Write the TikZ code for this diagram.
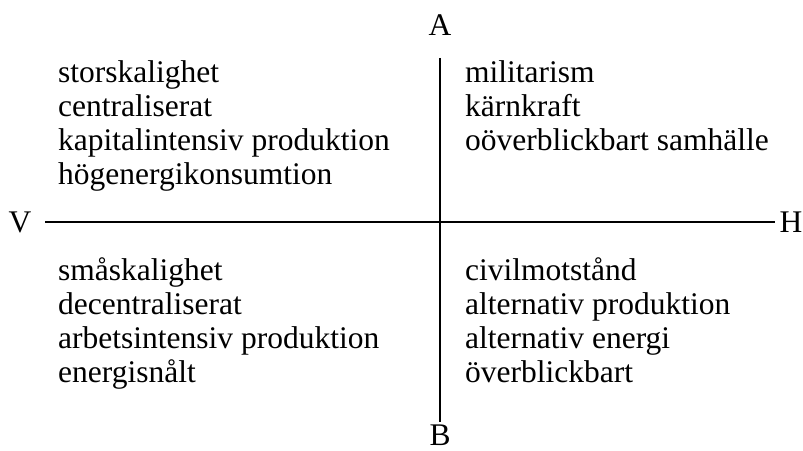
\documentclass[tikz,border=0pt]{standalone}
\usepackage{fontspec}
\setmainfont{Liberation Serif}
\usetikzlibrary{positioning}

\begin{document}
\begin{tikzpicture}[x=1pt,y=1pt,
    ord/.style={inner sep=0pt,anchor=base west,font=\fontsize{31.5}{34}\selectfont},
    pol/.style={inner sep=0pt,font=\fontsize{31.5}{34}\selectfont},
    axel/.style={line width=1.8pt}]
    \useasboundingbox (0,0) rectangle (803,450);
    % axlarnas andpunkter
    \coordinate (n) at (440,392); \coordinate (s) at (440,28);
    \coordinate (w) at (45,228); \coordinate (e) at (775,228);
    \node[pol] (A) at (440,425) {A}; \node[pol] (B) at (440,15) {B};
    \node[pol] (V) at (20,228) {V}; \node[pol] (H) at (791,228) {H};
    \draw[axel] (n) -- (s); \draw[axel] (w) -- (e);
    % kvadranterna
    \foreach \t [count=\i] in {storskalighet,centraliserat,kapitalintensiv produktion,högenergikonsumtion}
      \node[ord] (vo\i) at (58,367-34*\i+34) {\t};
    \foreach \t [count=\i] in {militarism,kärnkraft,oöverblickbart samhälle}
      \node[ord] (ho\i) at (465,367-34*\i+34) {\t};
    \foreach \t [count=\i] in {småskalighet,decentraliserat,arbetsintensiv produktion,energisnålt}
      \node[ord] (vn\i) at (58,169-34*\i+34) {\t};
    \foreach \t [count=\i] in {civilmotstånd,alternativ produktion,alternativ energi,överblickbart}
      \node[ord] (hn\i) at (465,169-34*\i+34) {\t};
  \end{tikzpicture}
\end{document}
